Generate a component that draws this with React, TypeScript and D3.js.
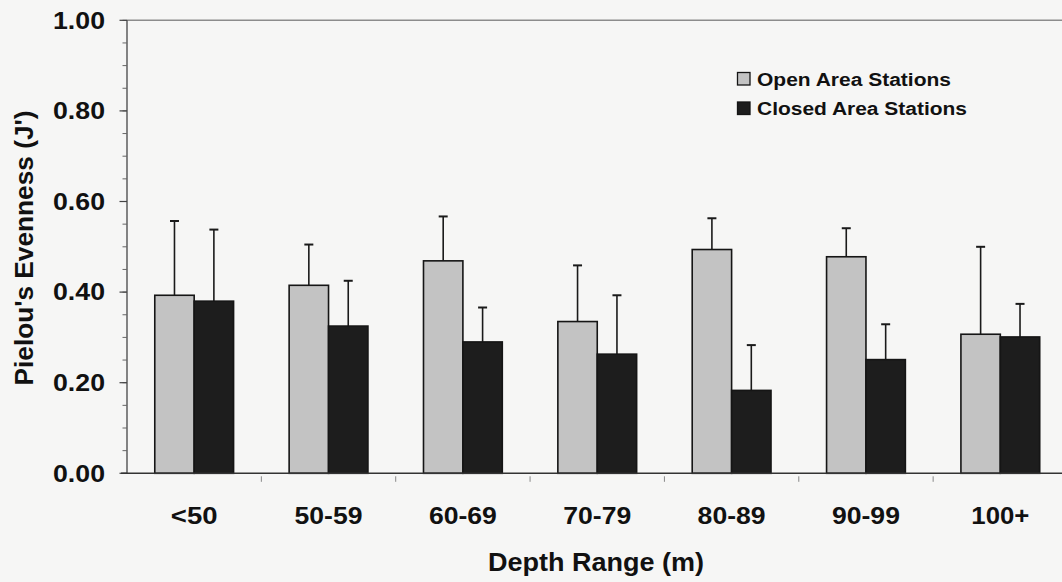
import React from "react";
import * as d3 from "d3";

// Depth range categories and Pielou's evenness (mean and +1 SD) per station type
const categories = ["<50", "50-59", "60-69", "70-79", "80-89", "90-99", "100+"];
const seriesNames = ["Open Area Stations", "Closed Area Stations"];
const openMean = [0.393, 0.415, 0.469, 0.335, 0.494, 0.478, 0.307];
const openSD = [0.164, 0.09, 0.098, 0.124, 0.069, 0.063, 0.193];
const closedMean = [0.38, 0.325, 0.29, 0.263, 0.183, 0.251, 0.301];
const closedSD = [0.158, 0.1, 0.076, 0.13, 0.1, 0.078, 0.073];
const yTicks = [0, 0.2, 0.4, 0.6, 0.8, 1.0];
const yMinorTicks = d3.range(0, 1.0001, 0.05);

const W = 1062;
const H = 582;
const FONT = "'Liberation Sans', Arial, Helvetica, sans-serif";
const OPEN_FILL = "#c3c3c3";
const CLOSED_FILL = "#1d1d1d";

export default function App() {
  const left = 127;
  const right = 1067.5;
  const top = 20.3;
  const bottom = 473.3;

  const x = d3.scaleBand<string>().domain(categories).range([left, right]).padding(0);
  const bw = x.bandwidth();
  const x1 = d3
    .scaleBand<string>()
    .domain(seriesNames)
    .range([0, bw])
    .paddingInner(0)
    .paddingOuter(0.705);
  const y = d3.scaleLinear().domain([0, 1]).range([bottom, top]);

  const series = [
    { name: seriesNames[0], mean: openMean, sd: openSD, fill: OPEN_FILL },
    { name: seriesNames[1], mean: closedMean, sd: closedSD, fill: CLOSED_FILL },
  ];

  const fmt = d3.format(".2f");

  return (
    <svg
      width={W}
      height={H}
      style={{ position: "absolute", left: 0, top: 0, background: "#f6f6f5" }}
      fontFamily={FONT}
    >
      <rect x={0} y={0} width={W} height={H} fill="#f6f6f5" />

      {/* top border line */}
      <line x1={left} x2={W} y1={top} y2={top} stroke="#8c8c8c" strokeWidth={1.6} />

      {/* y axis */}
      <line x1={left} x2={left} y1={top} y2={bottom} stroke="#444" strokeWidth={1.3} />
      {yMinorTicks.map((t, i) => (
        <line
          key={"mn" + i}
          x1={left - 4.5}
          x2={left}
          y1={y(t)}
          y2={y(t)}
          stroke="#666"
          strokeWidth={1}
        />
      ))}
      {yTicks.map((t) => (
        <g key={"yt" + t}>
          <line x1={left - 7.5} x2={left} y1={y(t)} y2={y(t)} stroke="#444" strokeWidth={1.2} />
          <text
            x={105}
            y={y(t)}
            dy="0.36em"
            textAnchor="end"
            fontSize={23}
            fontWeight="bold"
            fill="#111"
            textLength={52}
            lengthAdjust="spacingAndGlyphs"
          >
            {fmt(t)}
          </text>
        </g>
      ))}

      {/* bars with +1 SD error bars */}
      {series.map((s) =>
        categories.map((c, i) => {
          const bx = (x(c) as number) + (x1(s.name) as number);
          const w = x1.bandwidth();
          const yTop = y(s.mean[i]);
          const yErr = y(s.mean[i] + s.sd[i]);
          const cx = bx + w / 2;
          return (
            <g key={s.name + c}>
              <line x1={cx} x2={cx} y1={yTop} y2={yErr} stroke="#1a1a1a" strokeWidth={1.6} />
              <line x1={cx - 4.5} x2={cx + 4.5} y1={yErr} y2={yErr} stroke="#1a1a1a" strokeWidth={2} />
              <rect
                x={bx}
                y={yTop}
                width={w}
                height={bottom - yTop}
                fill={s.fill}
                stroke="#151515"
                strokeWidth={1.6}
              />
            </g>
          );
        })
      )}

      {/* x axis */}
      <line x1={left - 6} x2={W} y1={bottom} y2={bottom} stroke="#333" strokeWidth={1.4} />
      {categories.map((c, i) =>
        i === 0 ? null : (
          <line
            key={"xt" + c}
            x1={x(c) as number}
            x2={x(c) as number}
            y1={bottom + 3}
            y2={bottom + 8.5}
            stroke="#888"
            strokeWidth={1}
          />
        )
      )}
      {categories.map((c) => {
        const tw = { "<50": 46.7, "100+": 58 }[c] ?? 68;
        return (
          <text
            key={"xl" + c}
            x={(x(c) as number) + bw / 2}
            y={523.5}
            textAnchor="middle"
            fontSize={24}
            fontWeight="bold"
            fill="#111"
            textLength={tw}
            lengthAdjust="spacingAndGlyphs"
          >
            {c}
          </text>
        );
      })}

      {/* axis titles */}
      <text
        x={596}
        y={570.5}
        textAnchor="middle"
        fontSize={25}
        fontWeight="bold"
        fill="#111"
        textLength={216}
        lengthAdjust="spacingAndGlyphs"
      >
        Depth Range (m)
      </text>
      <text
        transform="translate(32.5,248) rotate(-90)"
        textAnchor="middle"
        fontSize={25}
        fontWeight="bold"
        fill="#111"
        textLength={275}
        lengthAdjust="spacingAndGlyphs"
      >
        Pielou's Evenness (J')
      </text>

      {/* legend */}
      {series.map((s, i) => (
        <g key={"lg" + s.name} transform={`translate(737,${72 + i * 29.5})`}>
          <rect x={0.5} y={0.5} width={12.5} height={12.5} fill={s.fill} stroke="#151515" strokeWidth={1.3} />
          <text
            x={20}
            y={13.8}
            fontSize={18}
            fontWeight="bold"
            fill="#111"
            textLength={i === 0 ? 194 : 210}
            lengthAdjust="spacingAndGlyphs"
          >
            {s.name}
          </text>
        </g>
      ))}
    </svg>
  );
}
